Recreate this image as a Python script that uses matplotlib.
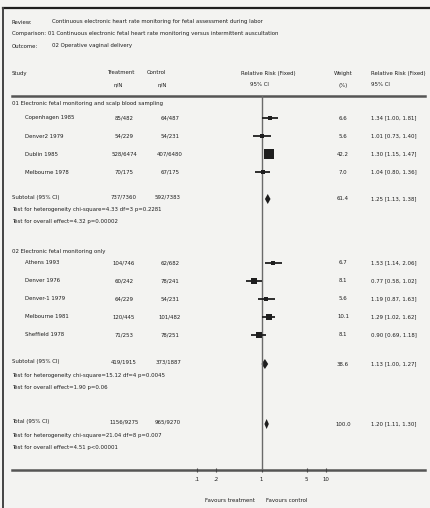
import numpy as np
import matplotlib
matplotlib.use("Agg")
import matplotlib.pyplot as plt
from matplotlib import font_manager
from matplotlib.font_manager import FontProperties

# Data
studies_1 = ["Copenhagen 1985", "Denver2 1979", "Dublin 1985", "Melbourne 1978"]
treat_1 = ["85/482", "54/229", "528/6474", "70/175"]
ctrl_1 = ["64/487", "54/231", "407/6480", "67/175"]
rr_1 = [1.34, 1.01, 1.30, 1.04]
lo_1 = [1.00, 0.73, 1.15, 0.80]
hi_1 = [1.81, 1.40, 1.47, 1.36]
w_1 = [6.6, 5.6, 42.2, 7.0]

studies_2 = ["Athens 1993", "Denver 1976", "Denver-1 1979", "Melbourne 1981", "Sheffield 1978"]
treat_2 = ["104/746", "60/242", "64/229", "120/445", "71/253"]
ctrl_2 = ["62/682", "78/241", "54/231", "101/482", "78/251"]
rr_2 = [1.53, 0.77, 1.19, 1.29, 0.90]
lo_2 = [1.14, 0.58, 0.87, 1.02, 0.69]
hi_2 = [2.06, 1.02, 1.63, 1.62, 1.18]
w_2 = [6.7, 8.1, 5.6, 10.1, 8.1]

pooled_labels = ["Subtotal (95% CI)", "Subtotal (95% CI)", "Total (95% CI)"]
pooled_treat = ["737/7360", "419/1915", "1156/9275"]
pooled_ctrl = ["592/7383", "373/1887", "965/9270"]
pooled_rr = [1.25, 1.13, 1.20]
pooled_lo = [1.13, 1.00, 1.11]
pooled_hi = [1.38, 1.27, 1.30]
pooled_w = [61.4, 38.6, 100.0]
pooled_tests = [
    ["Test for heterogeneity chi-square=4.33 df=3 p=0.2281",
     "Test for overall effect=4.32 p=0.00002"],
    ["Test for heterogeneity chi-square=15.12 df=4 p=0.0045",
     "Test for overall effect=1.90 p=0.06"],
    ["Test for heterogeneity chi-square=21.04 df=8 p=0.007",
     "Test for overall effect=4.51 p<0.00001"],
]

xticks = [0.1, 0.2, 1, 5, 10]
xtick_labels = [".1", ".2", "1", "5", "10"]

# -----------------------------
# Layout (pixels, top-down)
# -----------------------------
W, H = 430, 508
rows_1 = [118, 136, 154, 172]
rows_2 = [263, 281, 299, 317, 335]
pooled_rows = [199, 364, 424]
x_lo_px, x_hi_px = 197, 326   # positions of 0.1 and 10
y_top, y_axis = 96, 470

# narrow sans font if there is one
def pick_font():
    for f in font_manager.fontManager.ttflist:
        nm = f.name
        narrow = ("Narrow" in nm or "Condensed" in nm
                  or str(f.stretch) in ("condensed", "semi-condensed", "extra-condensed"))
        if (narrow and "Mono" not in nm and "Serif" not in nm
                and f.style == "normal" and f.weight in (400, "normal", "regular")):
            return FontProperties(fname=f.fname)
    return FontProperties(family="Liberation Sans")

fp = pick_font()

bg = "#f3f3f1"
ink = "#1e1e1e"

fig = plt.figure(figsize=(W / 100, H / 100), dpi=100, facecolor=bg)
ax = fig.add_axes([0, 0, 1, 1])
ax.set_xlim(0, W)
ax.set_ylim(H, 0)
ax.axis("off")

# size the font so a test line is ~150 px wide
probe = ax.text(0, 0, pooled_tests[0][0], fontproperties=fp, fontsize=10)
r = fig.canvas.get_renderer()
fs = 10 * 150 / probe.get_window_extent(r).width
fs = min(fs, 6.2)
probe.remove()
fp.set_size(fs)

def txt(x, y, s, ha="left", **kw):
    ax.text(x, y, s, ha=ha, va="center", fontproperties=fp, color=ink, **kw)

# frame and rules
ax.plot([3, W], [8, 8], color=ink, lw=1.6)
ax.plot([3, 3], [8, H], color="#444444", lw=1.4)
ax.plot([12, 425], [y_top, y_top], color="#555555", lw=1.8)
ax.plot([12, 425], [y_axis, y_axis], color="#555555", lw=1.8)

# title block
txt(12, 22, "Review:")
txt(52, 22, "Continuous electronic heart rate monitoring for fetal assessment during labor")
txt(12, 34, "Comparison: 01 Continuous electronic fetal heart rate monitoring versus intermittent auscultation")
txt(12, 46, "Outcome:")
txt(52, 46, "02 Operative vaginal delivery")

# column headers
txt(12, 73, "Study")
txt(121, 73, "Treatment", ha="center")
txt(118, 85, "n/N", ha="center")
txt(156, 73, "Control", ha="center")
txt(162, 85, "n/N", ha="center")
txt(268, 73, "Relative Risk (Fixed)", ha="center")
txt(259, 85, "95% CI", ha="center")
txt(343, 73, "Weight", ha="center")
txt(343, 85, "(%)", ha="center")
txt(371, 73, "Relative Risk (Fixed)")
txt(371, 85, "95% CI")

txt(12, 104, "01 Electronic fetal monitoring and scalp blood sampling")
txt(12, 252, "02 Electronic fetal monitoring only")

def study_rows(rows, names_, tr, ct, rr, lo, hi, w):
    for y, n, t, c, rv, l, h, wt in zip(rows, names_, tr, ct, rr, lo, hi, w):
        txt(25, y, n)
        txt(124, y, t, ha="center")
        txt(170, y, c, ha="center")
        txt(343, y, f"{wt:.1f}", ha="center")
        txt(371, y, f"{rv:.2f} [{l:.2f}, {h:.2f}]")

study_rows(rows_1, studies_1, treat_1, ctrl_1, rr_1, lo_1, hi_1, w_1)
study_rows(rows_2, studies_2, treat_2, ctrl_2, rr_2, lo_2, hi_2, w_2)

for y, lab, t, c, rv, l, h, wt, tests in zip(pooled_rows, pooled_labels, pooled_treat,
                                              pooled_ctrl, pooled_rr, pooled_lo, pooled_hi,
                                              pooled_w, pooled_tests):
    txt(12, y - 2, lab)
    txt(124, y - 2, t, ha="center")
    txt(168, y - 2, c, ha="center")
    txt(343, y, f"{wt:.1f}", ha="center")
    txt(371, y, f"{rv:.2f} [{l:.2f}, {h:.2f}]")
    txt(12, y + 11, tests[0])
    txt(12, y + 23, tests[1])

txt(230, 501, "Favours treatment", ha="center")
txt(287, 501, "Favours control", ha="center")

# -----------------------------
# Forest plot (log scale)
# -----------------------------
fx = fig.add_axes([x_lo_px / W, (H - y_axis) / H, (x_hi_px - x_lo_px) / W, (y_axis - y_top) / H])
fx.set_xscale("log")
fx.set_xlim(0.1, 10)
fx.set_ylim(y_axis, y_top)
fx.patch.set_alpha(0)
for s in fx.spines.values():
    s.set_visible(False)
fx.set_yticks([])
fx.set_xticks(xticks)
fx.set_xticklabels(xtick_labels)
for lbl in fx.get_xticklabels():
    lbl.set_fontproperties(fp)
    lbl.set_color(ink)
fx.xaxis.set_minor_locator(plt.NullLocator())
fx.tick_params(axis="x", length=2.5, width=0.8, color="#444444", pad=4, direction="inout")

fx.axvline(1, color="#6a6a6a", lw=1.0)

for rows, rr, lo, hi, w in [(rows_1, rr_1, lo_1, hi_1, w_1), (rows_2, rr_2, lo_2, hi_2, w_2)]:
    for y, rv, l, h, wt in zip(rows, rr, lo, hi, w):
        fx.plot([l, h], [y, y], color=ink, lw=1.3, solid_capstyle="butt")
        fx.plot([rv], [y], marker="s", color=ink, ms=1.45 * np.sqrt(wt) * 0.72 + 0.8, mew=0)

for y, rv, l, h in zip(pooled_rows, pooled_rr, pooled_lo, pooled_hi):
    fx.fill([l, rv, h, rv], [y, y - 5, y, y + 5], color=ink, lw=0)

fig.savefig("out.png", dpi=100, facecolor=bg)
